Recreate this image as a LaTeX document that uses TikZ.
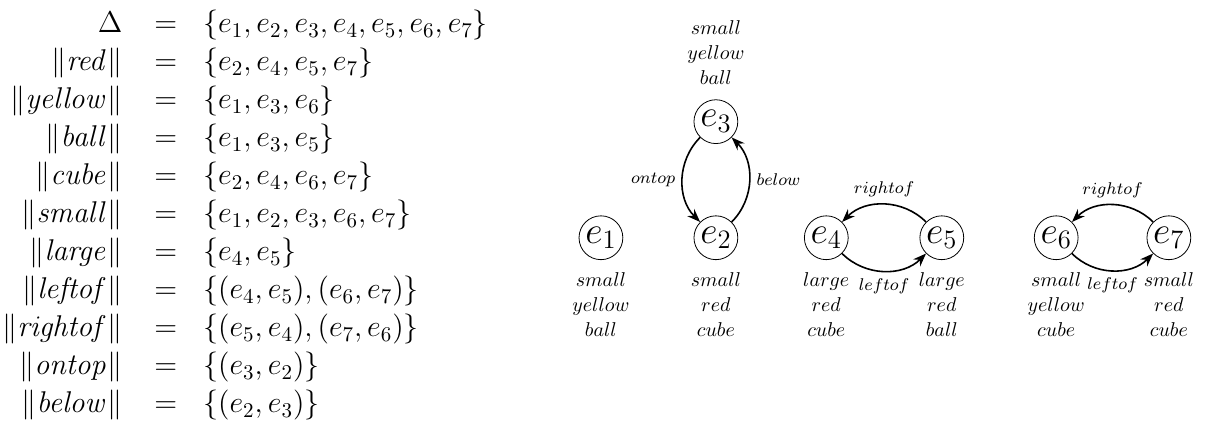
\documentclass[tikz,border=0pt]{standalone}
\usepackage{fix-cm}
\usepackage{amsmath}
\usetikzlibrary{arrows.meta,positioning}

\begin{document}
\begin{tikzpicture}[>=Stealth,
  ent/.style={draw,circle,inner sep=1pt,font=\fontsize{19}{23}\selectfont},
  prop/.style={align=center,inner sep=0pt,font=\fontsize{10}{12.5}\selectfont},
  rel/.style={font=\fontsize{8.5}{10}\selectfont},
  link/.style={->,thick}]
\useasboundingbox (0,0) rectangle (21.175,7.468);
%% interpretation
\node[anchor=north west,inner sep=0pt,font=\fontsize{15}{19}\selectfont] (defs) at (0.035,7.37)
{$\begin{array}{@{}r@{\hspace{16pt}}c@{\hspace{13pt}}l@{}}
\Delta & = & \{e_1,e_2,e_3,e_4,e_5,e_6,e_7\}\\
\|\mathit{red}\| & = & \{e_2,e_4,e_5,e_7\}\\
\|\mathit{yellow}\| & = & \{e_1,e_3,e_6\}\\
\|\mathit{ball}\| & = & \{e_1,e_3,e_5\}\\
\|\mathit{cube}\| & = & \{e_2,e_4,e_6,e_7\}\\
\|\mathit{small}\| & = & \{e_1,e_2,e_3,e_6,e_7\}\\
\|\mathit{large}\| & = & \{e_4,e_5\}\\
\|\mathit{leftof}\| & = & \{(e_4,e_5),(e_6,e_7)\}\\
\|\mathit{rightof}\| & = & \{(e_5,e_4),(e_7,e_6)\}\\
\|\mathit{ontop}\| & = & \{(e_3,e_2)\}\\
\|\mathit{below}\| & = & \{(e_2,e_3)\}
\end{array}$};
%% model
\node[ent] (e1) at (10.56,3.29) {$e_1$};
\node[ent] (e2) at (12.58,3.29) {$e_2$};
\node[ent] (e3) at (12.58,5.33) {$e_3$};
\node[ent] (e4) at (14.52,3.29) {$e_4$};
\node[ent] (e5) at (16.55,3.29) {$e_5$};
\node[ent] (e6) at (18.56,3.29) {$e_6$};
\node[ent] (e7) at (20.54,3.29) {$e_7$};
%% properties
\node[prop,below=6pt of e1] (p1) {$small$\\$yellow$\\$ball$};
\node[prop,below=6pt of e2] (p2) {$small$\\$red$\\$cube$};
\node[prop,above=7pt of e3] (p3) {$small$\\$yellow$\\$ball$};
\node[prop,below=6pt of e4] (p4) {$large$\\$red$\\$cube$};
\node[prop,below=6pt of e5] (p5) {$large$\\$red$\\$ball$};
\node[prop,below=6pt of e6] (p6) {$small$\\$yellow$\\$cube$};
\node[prop,below=6pt of e7] (p7) {$small$\\$red$\\$cube$};
%% relations
\draw[link] (e3) to[bend right=45] node[rel,left] (r1) {$ontop$} (e2);
\draw[link] (e2) to[bend right=45] node[rel,right] (r2) {$below$} (e3);
\draw[link] (e5) to[bend right=45] node[rel,above] (r3) {$rightof$} (e4);
\draw[link] (e4) to[bend right=45] node[rel,below] (r4) {$leftof$} (e5);
\draw[link] (e7) to[bend right=45] node[rel,above] (r5) {$rightof$} (e6);
\draw[link] (e6) to[bend right=45] node[rel,below] (r6) {$leftof$} (e7);
\end{tikzpicture}
\end{document}
